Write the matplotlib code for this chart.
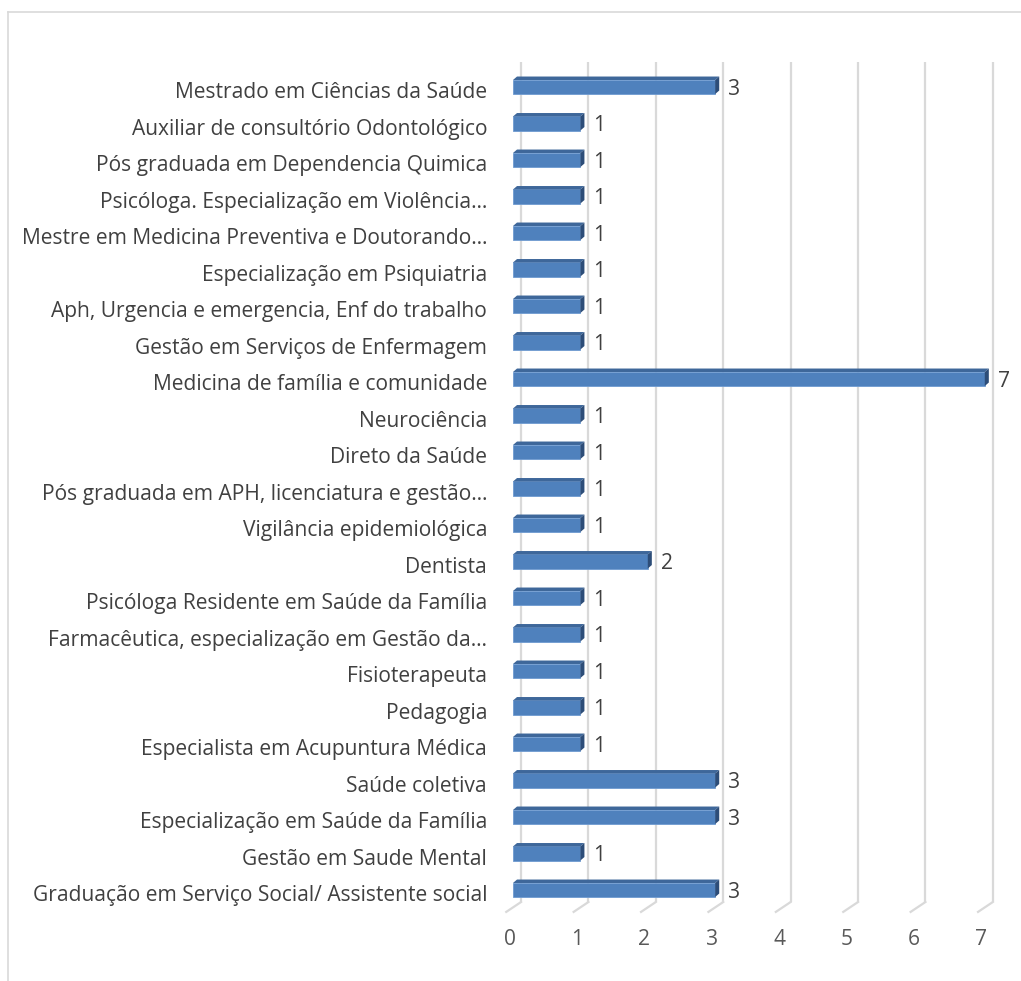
import matplotlib.pyplot as plt
from matplotlib.patches import Polygon
from matplotlib.lines import Line2D
from matplotlib.transforms import ScaledTranslation

plt.rcParams['font.family'] = ['Open Sans', 'DejaVu Sans']

# categories from top to bottom as in the chart
categories = [
    "Mestrado em Ciências da Saúde",
    "Auxiliar de consultório Odontológico",
    "Pós graduada em Dependencia Quimica",
    "Psicóloga. Especialização em Violência…",
    "Mestre em Medicina Preventiva e Doutorando…",
    "Especialização em Psiquiatria",
    "Aph, Urgencia e emergencia, Enf do trabalho",
    "Gestão em Serviços de Enfermagem",
    "Medicina de família e comunidade",
    "Neurociência",
    "Direto da Saúde",
    "Pós graduada em APH, licenciatura e gestão…",
    "Vigilância epidemiológica",
    "Dentista",
    "Psicóloga Residente em Saúde da Família",
    "Farmacêutica, especialização em Gestão da…",
    "Fisioterapeuta",
    "Pedagogia",
    "Especialista em Acupuntura Médica",
    "Saúde coletiva",
    "Especialização em Saúde da Família",
    "Gestão em Saude Mental",
    "Graduação em Serviço Social/ Assistente social",
]
values = [3, 1, 1, 1, 1, 1, 1, 1, 7, 1, 1, 1, 1, 2, 1, 1, 1, 1, 1, 3, 3, 1, 3]
xticks = [0, 1, 2, 3, 4, 5, 6, 7]

front = "#4f81bd"
top_c = "#3e679a"
side_c = "#2d4d78"
grid_c = "#d9d9d9"
txt = "#404040"
fs = 15.1

fig = plt.figure(figsize=(10.21, 9.81), dpi=100)
ax = fig.add_axes([499.5 / 1021, (981 - 926.5) / 981, 505.5 / 1021, 876 / 981])
ax.set_xlim(-0.2, 7.3)
ax.set_ylim(-1.0, 23.0)

n = len(categories)
ypos = [n - 1 - i for i in range(n)]

# back wall gridlines + floor slants
gx = 0.119
for v in xticks:
    ax.plot([v + gx, v + gx], [-0.33, 22.68], color=grid_c, lw=1.6, zorder=1,
            solid_capstyle='butt')
    ax.plot([v + gx, v - 0.1], [-0.33, -0.6], color=grid_c, lw=1.6, zorder=1)

h = 0.384
dx, dy = 0.06, 0.095
ax.barh(ypos, values, height=h, left=0, color=front, edgecolor="#6f9bd0",
        linewidth=0.6, zorder=3)
for y, v in zip(ypos, values):
    top = y + h / 2
    bot = y - h / 2
    ax.add_patch(Polygon([(0, top), (v, top), (v + dx, top + dy), (dx, top + dy)],
                         closed=True, color=top_c, zorder=3, lw=0))
    ax.add_patch(Polygon([(v, bot), (v + dx, bot + dy), (v + dx, top + dy), (v, top)],
                         closed=True, color=side_c, zorder=3, lw=0))
    ax.text(v + 0.19, y - 0.06, str(v), ha='left', va='center', fontsize=fs,
            color=txt, zorder=4)

ax.set_yticks(ypos)
ax.set_yticklabels(categories, fontsize=fs, color=txt)
ax.tick_params(axis='y', length=0, pad=9)
shift = ScaledTranslation(0, -2.5 / 72, fig.dpi_scale_trans)
for lab in ax.get_yticklabels():
    lab.set_transform(lab.get_transform() + shift)

ax.set_xticks([v - 0.05 for v in xticks])
ax.set_xticklabels([str(v) for v in xticks], fontsize=fs, color="#595959")
ax.tick_params(axis='x', length=0, pad=2)

for s in ax.spines.values():
    s.set_visible(False)

# chart area border (top and left visible)
fig.add_artist(Line2D([8 / 1021, 8 / 1021], [0, (981 - 12) / 981],
                      color=grid_c, lw=1.2, transform=fig.transFigure))
fig.add_artist(Line2D([8 / 1021, 1], [(981 - 12) / 981, (981 - 12) / 981],
                      color=grid_c, lw=1.2, transform=fig.transFigure))

fig.savefig("out.png", dpi=100)
